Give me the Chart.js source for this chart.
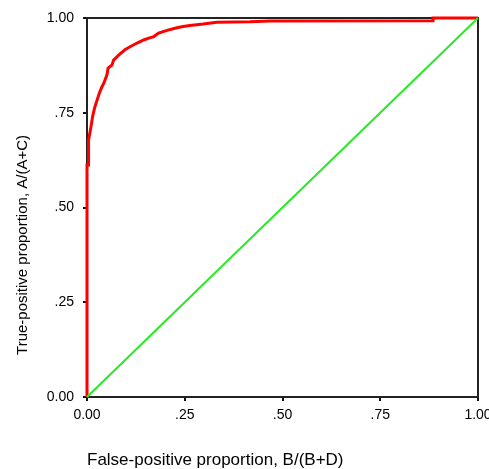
<!DOCTYPE html>
<html lang="en">
<head>
    <meta charset="UTF-8">
    <title>ROC curve</title>
    <script src="https://cdn.jsdelivr.net/npm/chart.js"></script>
    <style>
        body { margin: 0; background: #fff; }
        .chart-box { width: 489px; height: 469px; }
    </style>
</head>
<body>
    <div class="chart-box"><canvas id="rocChart" width="489" height="469"></canvas></div>
    <script>
        // ROC curve
        const fpr = [0, 0, 0.004, 0.004, 0.010, 0.015, 0.020, 0.026, 0.031, 0.038, 0.043, 0.051, 0.054, 0.064, 0.068,
            0.081, 0.097, 0.110, 0.128, 0.145, 0.158, 0.171, 0.183, 0.207, 0.225, 0.242, 0.263, 0.297, 0.332,
            0.417, 0.468, 0.885, 0.885, 1.0];
        const tpr = [0, 0.612, 0.612, 0.678, 0.712, 0.744, 0.765, 0.784, 0.800, 0.818, 0.828, 0.850, 0.868, 0.876, 0.889,
            0.902, 0.916, 0.924, 0.934, 0.942, 0.947, 0.951, 0.960, 0.968, 0.973, 0.977, 0.980, 0.984, 0.989,
            0.990, 0.992, 0.993, 1.0, 1.0];
        // reference (chance) line
        const chanceX = [0, 1];
        const chanceY = [0, 1];

        const tickValues = [0, 0.25, 0.5, 0.75, 1];
        const xTickLabels = ['0.00', '.25', '.50', '.75', '1.00'];
        const yTickLabels = ['0.00', '.25', '.50', '.75', '1.00'];

        const xTitle = 'False-positive proportion, B/(B+D)';
        const yTitle = 'True-positive proportion, A/(A+C)';

        const toPoints = (xs, ys) => xs.map((x, i) => ({ x: x, y: ys[i] }));
        const tickLabel = (labels) => (value) => {
            const i = tickValues.indexOf(Math.round(value * 4) / 4);
            return i >= 0 ? labels[i] : '';
        };

        // frame around the plot area + rotated y title
        const framePlugin = {
            id: 'frame',
            beforeDatasetsDraw(chart) {
                const { ctx, chartArea: a } = chart;
                ctx.save();
                ctx.strokeStyle = '#222';
                ctx.lineWidth = 2;
                ctx.strokeRect(a.left, a.top, a.right - a.left, a.bottom - a.top);
                ctx.restore();
            },
            afterDraw(chart) {
                const ctx = chart.ctx;
                ctx.save();
                ctx.translate(22.5, 245);
                ctx.rotate(-Math.PI / 2);
                ctx.font = '15px "Liberation Sans", Arial, sans-serif';
                ctx.fillStyle = '#000';
                ctx.textAlign = 'center';
                ctx.textBaseline = 'middle';
                ctx.fillText(yTitle, 0, 0);
                ctx.restore();
            }
        };

        const tickFont = { family: '"Liberation Sans", Arial, sans-serif', size: 14 };
        const gridOpts = { drawOnChartArea: false, drawTicks: true, tickLength: 4, lineWidth: 2, color: '#111' };

        new Chart(document.getElementById('rocChart'), {
            type: 'scatter',
            data: {
                datasets: [
                    {
                        label: 'chance',
                        data: toPoints(chanceX, chanceY),
                        showLine: true,
                        borderColor: 'rgb(40, 232, 40)',
                        borderWidth: 2,
                        pointRadius: 0,
                        clip: 3
                    },
                    {
                        label: 'ROC',
                        data: toPoints(fpr, tpr),
                        showLine: true,
                        borderColor: '#ff0000',
                        borderWidth: 3,
                        pointRadius: 0,
                        tension: 0,
                        clip: 3
                    }
                ]
            },
            options: {
                responsive: false,
                animation: false,
                layout: { padding: { top: 18, right: 11, left: 0, bottom: 0 } },
                plugins: { legend: { display: false }, tooltip: { enabled: false } },
                scales: {
                    x: {
                        type: 'linear', min: 0, max: 1,
                        border: { display: false },
                        grid: gridOpts,
                        ticks: { stepSize: 0.25, padding: 6, color: '#000', font: tickFont, maxRotation: 0,
                            callback: tickLabel(xTickLabels) },
                        title: { display: true, text: xTitle, align: 'start', color: '#000',
                            font: { family: '"Liberation Sans", Arial, sans-serif', size: 17, lineHeight: 1 },
                            padding: { top: 0, bottom: 0 } },
                        afterFit(scale) { scale.height = 72; scale.paddingLeft = 0; scale.paddingRight = 0; }
                    },
                    y: {
                        type: 'linear', min: 0, max: 1,
                        border: { display: false },
                        grid: gridOpts,
                        ticks: { stepSize: 0.25, padding: 9, color: '#000', font: tickFont,
                            callback: tickLabel(yTickLabels) },
                        afterFit(scale) { scale.width = 87; scale.paddingTop = 0; scale.paddingBottom = 0; }
                    }
                }
            },
            plugins: [framePlugin]
        });
    </script>
</body>
</html>
